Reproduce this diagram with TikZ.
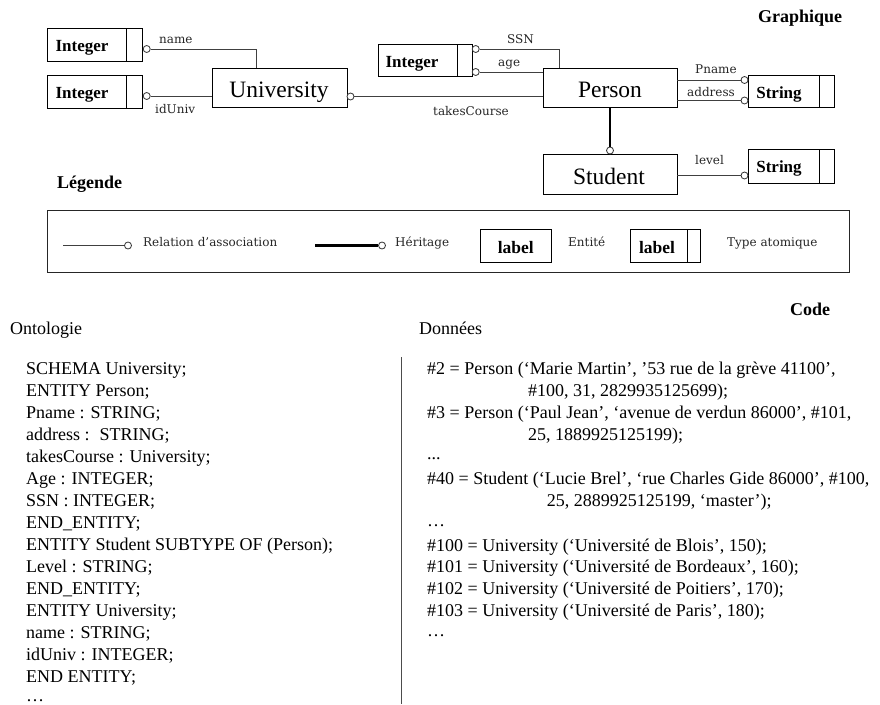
\documentclass[tikz,border=0pt]{standalone}
\usepackage{fontspec}
\setmainfont{Liberation Serif}
\newfontfamily\lblfont{DejaVu Serif}
\begin{document}
\begin{tikzpicture}[x=1pt,y=-1pt,
  box/.style={draw=black, line width=0.8pt, inner sep=0pt},
  divider/.style={path picture={\draw[line width=0.8pt] ([xshift=-#1]path picture bounding box.north east) -- ([xshift=-#1]path picture bounding box.south east);}},
  conn/.style={draw=black!75, line width=0.9pt},
  heavy/.style={draw=black, line width=2.8pt},
  ring/.style={circle, draw=black!80, line width=0.8pt, fill=white, minimum size=7pt, inner sep=0pt},
  lbl/.style={anchor=base west, inner sep=0pt, font=\lblfont\fontsize{12}{14}\selectfont, text=black!85},
  code/.style={anchor=base west, inner sep=0pt, font=\fontsize{18}{22}\selectfont},
  head/.style={anchor=base west, inner sep=0pt, font=\fontsize{18}{22}\selectfont\bfseries},
  tbtext/.style={anchor=base, inner sep=0pt, font=\fontsize{17}{18}\selectfont\bfseries},
  enttext/.style={anchor=base, inner sep=0pt, font=\fontsize{23.5}{26}\selectfont}
]
\useasboundingbox (0,0) rectangle (880,704);

% ---------- Graphique ----------
\node[head] (hgraph) at (758,22) {Graphique};

% type boxes
\node[box, divider=15.5pt, minimum width=95pt, minimum height=33pt] (int1) at (94.5,44.5) {};
\node[tbtext] (int1t) at (82,51.5) {Integer};
\node[box, divider=15.5pt, minimum width=95pt, minimum height=33pt] (int2) at (94.5,91.5) {};
\node[tbtext] (int2t) at (82,98.5) {Integer};
\node[box, divider=15pt, minimum width=94pt, minimum height=32pt] (int3) at (425,60) {};
\node[tbtext] (int3t) at (412,67) {Integer};
\node[box, divider=15pt, minimum width=86pt, minimum height=32.5pt] (str1) at (791,91.25) {};
\node[tbtext] (str1t) at (779,98.5) {String};
\node[box, divider=15pt, minimum width=86pt, minimum height=34pt] (str2) at (791,166) {};
\node[tbtext] (str2t) at (779,172.5) {String};

% entities
\node[box, minimum width=134.5pt, minimum height=39.5pt] (univ) at (279.75,87.75) {};
\node[enttext] (univt) at (279,97) {University};
\node[box, minimum width=134pt, minimum height=39.5pt] (person) at (610,87.75) {};
\node[enttext] (persont) at (610,97) {Person};
\node[box, minimum width=134pt, minimum height=40pt] (student) at (610,174) {};
\node[enttext] (studentt) at (609,184) {Student};

% circles
\node[ring] (cname) at (146.7,49) {};
\node[ring] (cid) at (146.7,96) {};
\node[ring] (ctc) at (350.5,96.5) {};
\node[ring] (cssn) at (475.7,49) {};
\node[ring] (cage) at (475.7,72) {};
\node[ring] (cpn) at (744.5,80) {};
\node[ring] (cad) at (744.5,100.5) {};
\node[ring] (clev) at (744.5,175.5) {};
\node[ring] (cinh) at (610,150.5) {};

% connectors
\draw[conn] (cname.east) -| ([xshift=-23.25pt]univ.north);
\draw[conn] (cid.east) -- (cid.east -| univ.west);
\draw[conn] (ctc.east) -- (ctc.east -| person.west);
\draw[conn] (cssn.east) -| ([xshift=-51pt]person.north);
\draw[conn] (cage.east) -- (cage.east -| person.west);
\draw[conn] (cpn.west) -- (cpn.west -| person.east);
\draw[conn] (cad.west) -- (cad.west -| person.east);
\draw[conn] (clev.west) -- (clev.west -| student.east);
\draw[heavy] (person.south) -- (cinh.north);

% connector labels
\node[lbl] (lname) at (159,43.3) {name};
\node[lbl] (lid) at (155,113) {idUniv};
\node[lbl] (lssn) at (507,43.3) {SSN};
\node[lbl] (lage) at (498,66.5) {age};
\node[lbl] (ltc) at (433,115) {takesCourse};
\node[lbl] (lpn) at (695,73.3) {Pname};
\node[lbl] (lad) at (687,96.7) {address};
\node[lbl] (llev) at (695,164) {level};

% ---------- Légende ----------
\node[head] (hleg) at (57,188) {Légende};
\node[box, draw=black!85, minimum width=802pt, minimum height=62.5pt] (legbox) at (448,241.25) {};
\coordinate (lr0) at (63,245.5);
\node[ring] (cl1) at (128,245.5) {};
\draw[conn] (lr0) -- (cl1.west);
\node[lbl] (lrel) at (143,246.7) {Relation d’association};
\coordinate (lh0) at (315,245.5);
\node[ring] (cl2) at (382,245.5) {};
\draw[heavy] (lh0) -- (cl2.west);
\node[lbl] (lher) at (395,246.7) {Héritage};
\node[box, minimum width=70.3pt, minimum height=33pt] (lent) at (515.85,245.5) {};
\node[tbtext, font=\fontsize{17.5}{19}\selectfont\bfseries] (lentt) at (515.85,253) {label};
\node[lbl] (lentl) at (568,246.7) {Entité};
\node[box, divider=13.7pt, minimum width=70.7pt, minimum height=33pt] (ltyp) at (665.35,245.5) {};
\node[tbtext, font=\fontsize{17.5}{19}\selectfont\bfseries] (ltypt) at (657,253) {label};
\node[lbl] (ltypl) at (727,246.7) {Type atomique};

% ---------- Code ----------
\node[head] (hcode) at (790,315) {Code};
\node[code] (hont) at (10,334.5) {Ontologie};
\node[code] (hdon) at (419,334.5) {Données};
\draw[black!70, line width=1.2pt] (401.5,357) -- (401.5,704);

\foreach \t [count=\i from 0] in {
  {SCHEMA University;},
  {ENTITY Person;},
  {Pname : STRING;},
  {address :\hspace{0.55em}STRING;},
  {takesCourse : University;},
  {Age : INTEGER;},
  {SSN : INTEGER;},
  {END\_ENTITY;},
  {ENTITY Student SUBTYPE OF (Person);},
  {Level : STRING;},
  {END\_ENTITY;},
  {ENTITY University;},
  {name : STRING;},
  {idUniv : INTEGER;},
  {END ENTITY;}}
  \node[code] (o\i) at (26,374+22*\i) {\t};
\node[code] (o15) at (26,701) {…};

\node[code] (d1) at (427,374) {\#2 = Person (‘Marie Martin’, ’53 rue de la grève 41100’,};
\node[code] (d2) at (528,396) {\#100, 31, 2829935125699);};
\node[code] (d3) at (427,418.5) {\#3 = Person (‘Paul Jean’, ‘avenue de verdun 86000’, \#101,};
\node[code] (d4) at (528,440.3) {25, 1889925125199);};
\node[code] (d5) at (427,459.5) {...};
\node[code] (d6) at (427,484.3) {\#40 = Student (‘Lucie Brel’, ‘rue Charles Gide 86000’, \#100,};
\node[code] (d7) at (546.7,506) {25, 2889925125199, ‘master’);};
\node[code] (d8) at (427,526.5) {…};
\node[code] (d9) at (427,551) {\#100 = University (‘Université de Blois’, 150);};
\node[code] (d10) at (427,572.7) {\#101 = University (‘Université de Bordeaux’, 160);};
\node[code] (d11) at (427,594) {\#102 = University (‘Université de Poitiers’, 170);};
\node[code] (d12) at (427,616) {\#103 = University (‘Université de Paris’, 180);};
\node[code] (d13) at (427,636.5) {…};
\end{tikzpicture}
\end{document}
